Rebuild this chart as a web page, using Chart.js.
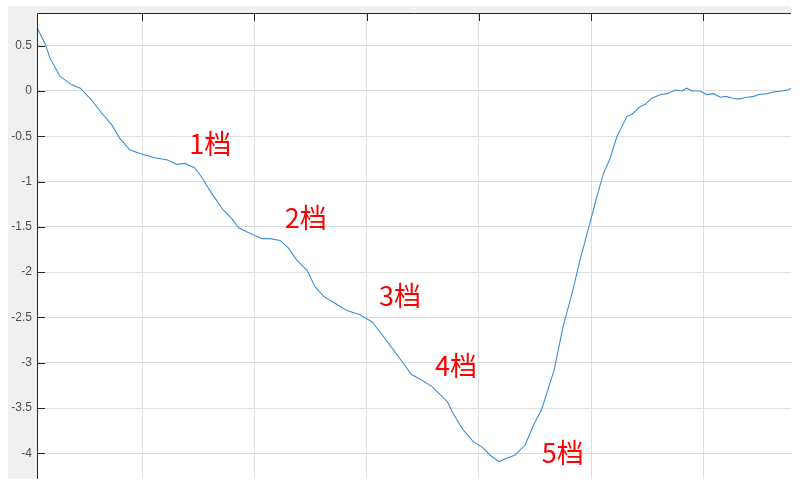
<!DOCTYPE html>
<html>
<head>
<meta charset="utf-8">
<script src="https://cdn.jsdelivr.net/npm/chart.js@4/dist/chart.umd.min.js"></script>
<style>
  html, body { margin: 0; padding: 0; background: #fff; }
  #jsChart { display: block; }
</style>
</head>
<body>
<canvas id="jsChart" width="800" height="491"></canvas>
<script>
// time axis (grid every 100 units) and the traced signal
const timeX = [6, 14, 18, 27, 37, 45, 55, 63, 73, 80, 89, 98, 112, 122, 131, 138, 147, 153,
  162, 172, 180, 186, 196, 207, 214, 223, 230, 238, 247, 254, 262, 274, 282, 294,
  305, 315, 324, 333, 340, 349, 358, 372, 377, 386, 395, 403, 410, 418, 425, 432,
  441, 449, 456, 467, 475, 483, 490, 498, 505, 511, 517, 523, 532, 536, 544, 548,
  554, 562, 568, 575, 581, 585, 590, 597, 603, 609, 615, 620, 626, 631, 639, 645,
  649, 657, 663, 670, 675, 678];
const signal = [0.71, 0.51, 0.36, 0.16, 0.07, 0.03, -0.10, -0.23, -0.375, -0.52, -0.65, -0.69, -0.74, -0.76, -0.81, -0.80, -0.85, -0.95,
  -1.13, -1.31, -1.41, -1.51, -1.57, -1.63, -1.63, -1.65, -1.73, -1.87, -1.98, -2.16, -2.27, -2.36, -2.42, -2.47,
  -2.55, -2.71, -2.86, -3.01, -3.13, -3.19, -3.26, -3.43, -3.56, -3.74, -3.87, -3.93, -4.02, -4.09, -4.05, -4.02,
  -3.91, -3.68, -3.51, -3.08, -2.60, -2.23, -1.87, -1.50, -1.17, -0.91, -0.74, -0.50, -0.28, -0.26, -0.17, -0.15,
  -0.08, -0.04, -0.03, 0.01, 0.00, 0.03, 0.00, 0.00, -0.04, -0.03, -0.07, -0.06, -0.08, -0.09, -0.07, -0.06,
  -0.04, -0.03, -0.01, 0.00, 0.01, 0.03];

const xGrid = [100, 200, 300, 400, 500, 600];
const yTicks = [0.5, 0, -0.5, -1, -1.5, -2, -2.5, -3, -3.5, -4];
const yTickLabels = ['0.5', '0', '-0.5', '-1', '-1.5', '-2', '-2.5', '-3', '-3.5', '-4'];

// red gear labels
const gearLabels = ['1档', '2档', '3档', '4档', '5档'];
const gearX = [142, 227, 311, 361, 456];
const gearY = [-0.585, -1.40, -2.26, -3.035, -3.99];

const xMin = 6.4, xMax = 678;
const yMin = -4.28, yMax = 0.86;

// grey frame + dark axis lines + inward ticks, the matlab look
const framePlugin = {
  id: 'frame',
  beforeDraw(chart) {
    const {ctx, chartArea: a} = chart;
    ctx.save();
    ctx.fillStyle = '#f0f0f0';
    ctx.fillRect(8, 6, a.left - 8, a.bottom - 6);
    ctx.fillRect(8, 6, a.right - 8, a.top - 6);
    ctx.fillStyle = '#ffffff';
    ctx.fillRect(a.left, a.top, a.right - a.left, a.bottom - a.top);
    ctx.restore();
  },
  afterDatasetsDraw(chart) {
    const {ctx, chartArea: a, scales} = chart;
    ctx.save();
    ctx.strokeStyle = '#262626';
    ctx.lineWidth = 1;
    ctx.beginPath();
    ctx.moveTo(a.left + 0.5, a.bottom);
    ctx.lineTo(a.left + 0.5, a.top + 0.5);
    ctx.lineTo(a.right, a.top + 0.5);
    yTicks.forEach(v => {
      const y = Math.round(scales.y.getPixelForValue(v)) + 0.5;
      ctx.moveTo(a.left, y);
      ctx.lineTo(a.left + 8, y);
    });
    xGrid.forEach(v => {
      const x = Math.round(scales.x.getPixelForValue(v)) + 0.5;
      ctx.moveTo(x, a.top);
      ctx.lineTo(x, a.top + 8);
    });
    ctx.stroke();

    ctx.fillStyle = '#ff0000';
    ctx.font = '27px "Noto Sans CJK SC"';
    ctx.textAlign = 'left';
    ctx.textBaseline = 'middle';
    gearLabels.forEach((t, i) => {
      ctx.fillText(t, scales.x.getPixelForValue(gearX[i]), scales.y.getPixelForValue(gearY[i]));
    });
    ctx.restore();
  }
};

const ctx = document.getElementById('jsChart');

new Chart(ctx, {
  type: 'line',
  data: {
    datasets: [{
      data: timeX.map((t, i) => ({x: t, y: signal[i]})),
      borderColor: '#3f8fd6',
      borderWidth: 1.1,
      pointRadius: 0,
      tension: 0,
      fill: false,
    }],
  },
  options: {
    responsive: false,
    animation: false,
    devicePixelRatio: 1,
    layout: { padding: { left: 0, top: 13, right: 9, bottom: 12 } },
    plugins: { legend: { display: false }, tooltip: { enabled: false } },
    scales: {
      x: {
        type: 'linear',
        min: xMin,
        max: xMax,
        afterBuildTicks: (s) => { s.ticks = xGrid.map(v => ({value: v})); },
        afterFit: (s) => { s.height = 0; },
        ticks: { display: false },
        grid: { color: '#dedede', drawTicks: false },
        border: { display: false },
      },
      y: {
        min: yMin,
        max: yMax,
        afterBuildTicks: (s) => { s.ticks = yTicks.map(v => ({value: v})); },
        afterFit: (s) => { s.width = 37; },
        ticks: {
          padding: 5,
          color: '#4d4d4d',
          font: { family: '"Liberation Sans", Arial, sans-serif', size: 12 },
          callback: (v, i) => yTickLabels[i],
        },
        grid: { color: '#dedede', drawTicks: false },
        border: { display: false },
      },
    },
  },
  plugins: [framePlugin],
});
</script>
</body>
</html>
